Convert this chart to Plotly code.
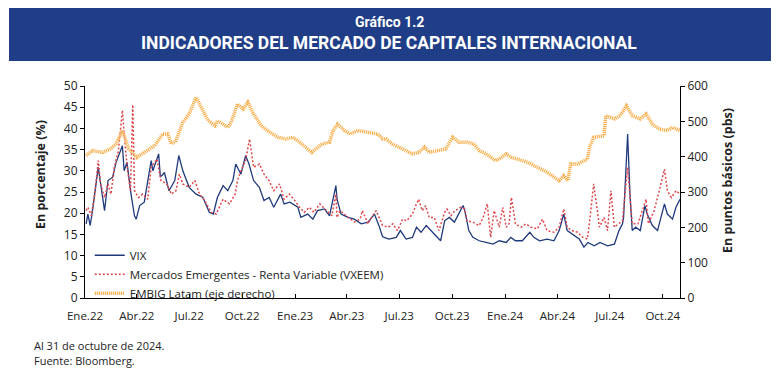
import plotly.graph_objects as go

# ---------------- data ----------------
quarter_ticks = ["2022-01-01", "2022-04-01", "2022-07-01", "2022-10-01", "2023-01-01", "2023-04-01",
                 "2023-07-01", "2023-10-01", "2024-01-01", "2024-04-01", "2024-07-01", "2024-10-01"]
quarter_labels = ["Ene.22", "Abr.22", "Jul.22", "Oct.22", "Ene.23", "Abr.23",
                  "Jul.23", "Oct.23", "Ene.24", "Abr.24", "Jul.24", "Oct.24"]

vix_dates = [
    "2022-01-03", "2022-01-06", "2022-01-10", "2022-01-14", "2022-01-24", "2022-01-27", "2022-02-01", "2022-02-04", "2022-02-10", "2022-02-18",
    "2022-02-24", "2022-03-07", "2022-03-10", "2022-03-15", "2022-03-22", "2022-03-28", "2022-03-31", "2022-04-06", "2022-04-14", "2022-04-26",
    "2022-04-29", "2022-05-09", "2022-05-12", "2022-05-19", "2022-05-27", "2022-06-06", "2022-06-13", "2022-06-20", "2022-07-01", "2022-07-13",
    "2022-07-25", "2022-08-05", "2022-08-12", "2022-08-19", "2022-08-29", "2022-09-06", "2022-09-15", "2022-09-20", "2022-09-29", "2022-10-07",
    "2022-10-13", "2022-10-21", "2022-10-31", "2022-11-08", "2022-11-17", "2022-11-25", "2022-12-07", "2022-12-13", "2022-12-23", "2023-01-06",
    "2023-01-11", "2023-01-23", "2023-02-01", "2023-02-09", "2023-02-21", "2023-03-02", "2023-03-13", "2023-03-15", "2023-03-22", "2023-04-03",
    "2023-04-14", "2023-04-26", "2023-05-08", "2023-05-19", "2023-05-27", "2023-06-02", "2023-06-05", "2023-06-13", "2023-06-26", "2023-07-03",
    "2023-07-13", "2023-07-24", "2023-07-31", "2023-08-08", "2023-08-17", "2023-08-25", "2023-09-01", "2023-09-11", "2023-09-18", "2023-09-26",
    "2023-10-05", "2023-10-20", "2023-10-23", "2023-10-30", "2023-11-06", "2023-11-17", "2023-11-29", "2023-12-11", "2023-12-22", "2024-01-03",
    "2024-01-11", "2024-01-19", "2024-01-31", "2024-02-08", "2024-02-13", "2024-02-20", "2024-03-01", "2024-03-14", "2024-03-26", "2024-04-04",
    "2024-04-12", "2024-04-18", "2024-04-26", "2024-05-09", "2024-05-17", "2024-05-24", "2024-06-04", "2024-06-14", "2024-06-27", "2024-07-09",
    "2024-07-17", "2024-07-23", "2024-07-25", "2024-08-01", "2024-08-05", "2024-08-09", "2024-08-15", "2024-08-23", "2024-08-31", "2024-09-04",
    "2024-09-13", "2024-09-22", "2024-10-04", "2024-10-09", "2024-10-18", "2024-10-24", "2024-10-31",
]
vix = [
    17.5, 19.8, 17.1, 20.6, 30.8, 27.7, 23.7, 20.6, 27.7, 28.5,
    32.0, 35.9, 30.0, 32.0, 24.5, 19.4, 18.6, 21.8, 22.6, 32.4,
    30.0, 34.0, 28.5, 29.6, 25.3, 27.7, 33.6, 30.0, 26.1, 24.5,
    23.7, 20.2, 19.8, 23.7, 26.5, 25.3, 27.7, 31.6, 29.2, 33.6,
    31.6, 27.7, 26.1, 23.0, 23.7, 21.4, 24.5, 22.2, 22.6, 21.4,
    19.0, 19.8, 18.6, 20.6, 21.0, 19.4, 26.5, 23.3, 19.8, 19.0,
    18.6, 17.5, 17.9, 19.8, 17.0, 14.5, 14.3, 13.9, 14.3, 15.9,
    13.9, 14.3, 16.7, 15.5, 17.1, 15.9, 15.1, 13.5, 18.2, 19.0,
    17.9, 21.8, 20.6, 15.9, 14.3, 13.5, 13.1, 12.7, 13.5, 13.1,
    14.3, 13.5, 13.5, 14.7, 15.5, 14.3, 13.5, 13.9, 13.5, 15.9,
    19.8, 15.9, 15.1, 13.9, 12.0, 13.1, 12.3, 13.1, 12.3, 12.7,
    15.9, 17.5, 19.0, 38.7, 24.5, 15.9, 16.7, 15.9, 21.8, 19.8,
    17.1, 15.9, 22.2, 19.8, 18.6, 21.4, 23.3,
]

vxeem_dates = [
    "2022-01-03", "2022-01-06", "2022-01-12", "2022-01-18", "2022-01-24", "2022-01-28", "2022-02-04", "2022-02-10", "2022-02-15", "2022-02-21",
    "2022-02-28", "2022-03-07", "2022-03-10", "2022-03-16", "2022-03-21", "2022-03-25", "2022-03-28", "2022-04-04", "2022-04-11", "2022-04-20",
    "2022-04-26", "2022-05-06", "2022-05-13", "2022-05-23", "2022-05-31", "2022-06-08", "2022-06-14", "2022-06-20", "2022-07-01", "2022-07-11",
    "2022-07-19", "2022-07-28", "2022-08-08", "2022-08-17", "2022-08-29", "2022-09-09", "2022-09-19", "2022-09-23", "2022-09-29", "2022-10-07",
    "2022-10-14", "2022-10-21", "2022-10-31", "2022-11-08", "2022-11-17", "2022-11-25", "2022-12-05", "2022-12-13", "2022-12-22", "2022-12-30",
    "2023-01-09", "2023-01-17", "2023-01-26", "2023-02-03", "2023-02-13", "2023-02-24", "2023-03-06", "2023-03-13", "2023-03-15", "2023-03-20",
    "2023-03-28", "2023-04-05", "2023-04-14", "2023-04-24", "2023-04-28", "2023-05-08", "2023-05-12", "2023-05-22", "2023-05-29", "2023-06-02",
    "2023-06-12", "2023-06-20", "2023-06-28", "2023-07-07", "2023-07-14", "2023-07-24", "2023-07-31", "2023-08-04", "2023-08-10", "2023-08-16",
    "2023-08-22", "2023-08-31", "2023-09-08", "2023-09-18", "2023-09-22", "2023-09-29", "2023-10-06", "2023-10-16", "2023-10-23", "2023-10-27",
    "2023-11-06", "2023-11-17", "2023-11-24", "2023-12-01", "2023-12-07", "2023-12-13", "2023-12-22", "2023-12-28", "2024-01-03", "2024-01-08",
    "2024-01-12", "2024-01-19", "2024-01-29", "2024-02-06", "2024-02-15", "2024-02-26", "2024-03-06", "2024-03-14", "2024-03-26", "2024-04-04",
    "2024-04-12", "2024-04-18", "2024-04-26", "2024-05-06", "2024-05-15", "2024-05-23", "2024-05-27", "2024-06-03", "2024-06-07", "2024-06-13",
    "2024-06-21", "2024-06-27", "2024-07-03", "2024-07-09", "2024-07-16", "2024-07-23", "2024-08-01", "2024-08-05", "2024-08-09", "2024-08-19",
    "2024-08-26", "2024-09-02", "2024-09-06", "2024-09-16", "2024-09-25", "2024-10-04", "2024-10-09", "2024-10-16", "2024-10-24", "2024-10-31",
]
vxeem = [
    20.6, 21.4, 19.4, 24.5, 32.4, 26.9, 23.7, 26.9, 24.5, 30.8,
    34.7, 44.3, 38.7, 30.0, 25.3, 45.6, 25.3, 23.7, 24.5, 23.3,
    30.8, 32.8, 27.7, 26.9, 24.5, 25.3, 29.2, 26.9, 26.1, 27.7,
    24.5, 23.0, 20.2, 19.8, 23.3, 22.2, 24.5, 27.7, 30.0, 32.4,
    37.5, 30.8, 31.6, 29.2, 27.7, 25.3, 26.9, 23.3, 24.5, 23.3,
    21.4, 20.2, 21.4, 20.2, 22.2, 20.6, 19.4, 24.5, 19.0, 20.6,
    19.8, 19.0, 17.9, 18.6, 20.6, 17.5, 18.6, 20.6, 18.3, 17.1,
    16.7, 17.5, 15.9, 18.6, 18.2, 19.8, 22.2, 23.3, 20.6, 21.8,
    19.0, 19.0, 15.9, 20.2, 21.0, 19.4, 20.6, 21.4, 21.0, 18.2,
    17.9, 17.1, 19.0, 22.2, 14.3, 20.6, 16.7, 21.4, 16.7, 17.5,
    23.7, 17.5, 16.7, 17.5, 16.7, 16.3, 18.6, 15.9, 15.5, 16.7,
    21.0, 16.7, 15.9, 15.5, 14.3, 13.9, 18.2, 26.9, 23.0, 16.7,
    19.0, 15.9, 25.3, 16.7, 17.5, 18.2, 30.8, 24.5, 17.5, 17.5,
    20.6, 23.3, 17.5, 20.6, 25.3, 30.4, 25.3, 23.7, 25.3, 24.5,
]

embig_dates = [
    "2022-01-03", "2022-01-14", "2022-02-01", "2022-02-14", "2022-02-24", "2022-03-07", "2022-03-11", "2022-03-18", "2022-04-01", "2022-04-14",
    "2022-05-02", "2022-05-16", "2022-05-25", "2022-05-31", "2022-06-08", "2022-06-20", "2022-07-01", "2022-07-13", "2022-07-22", "2022-08-03",
    "2022-08-15", "2022-08-19", "2022-08-29", "2022-09-06", "2022-09-12", "2022-09-23", "2022-10-03", "2022-10-11", "2022-10-21", "2022-11-03",
    "2022-11-14", "2022-12-02", "2022-12-16", "2022-12-28", "2023-01-06", "2023-01-17", "2023-01-30", "2023-02-06", "2023-02-17", "2023-03-02",
    "2023-03-08", "2023-03-16", "2023-03-28", "2023-04-07", "2023-04-20", "2023-05-08", "2023-05-25", "2023-06-02", "2023-06-08", "2023-06-19",
    "2023-07-07", "2023-07-24", "2023-08-04", "2023-08-14", "2023-08-22", "2023-09-08", "2023-09-20", "2023-10-02", "2023-10-13", "2023-10-27",
    "2023-11-08", "2023-11-17", "2023-11-29", "2023-12-15", "2023-12-22", "2024-01-03", "2024-01-12", "2024-01-31", "2024-02-09", "2024-02-26",
    "2024-03-14", "2024-04-04", "2024-04-12", "2024-04-19", "2024-04-24", "2024-05-06", "2024-05-23", "2024-05-27", "2024-06-03", "2024-06-21",
    "2024-06-24", "2024-07-09", "2024-07-19", "2024-07-30", "2024-08-09", "2024-08-23", "2024-09-02", "2024-09-13", "2024-09-25", "2024-10-09",
    "2024-10-18", "2024-10-31",
]
embig = [
    403, 417, 412, 422, 436, 474, 455, 422, 398, 412,
    431, 464, 464, 436, 445, 497, 521, 568, 540, 502,
    488, 502, 492, 483, 497, 549, 535, 554, 521, 488,
    474, 455, 450, 455, 445, 431, 412, 422, 436, 441,
    474, 492, 474, 464, 474, 469, 464, 450, 450, 436,
    422, 408, 412, 427, 412, 417, 422, 455, 441, 441,
    436, 417, 408, 389, 393, 408, 398, 389, 384, 370,
    356, 332, 346, 332, 379, 379, 393, 427, 455, 459,
    516, 507, 516, 544, 516, 507, 521, 492, 478, 474,
    483, 474,
]

# ---------------- figure ----------------
TICK_FONT = dict(family="Open Sans", size=12, color="#222222")

fig = go.Figure()
fig.add_trace(go.Scatter(x=vix_dates, y=vix, name="VIX", mode="lines",
                         line=dict(color="#1F3A7D", width=1.3)))
fig.add_trace(go.Scatter(x=vxeem_dates, y=vxeem, name="Mercados Emergentes - Renta Variable (VXEEM)",
                         mode="lines", line=dict(color="#E0474C", width=1.5, dash="2px,2px")))
fig.add_trace(go.Scatter(x=embig_dates, y=embig, name="EMBIG Latam (eje derecho)", yaxis="y2",
                         mode="lines", line=dict(color="#F6B050", width=3.5, dash="1.2px,0.8px")))

fig.update_layout(
    width=771, height=373, autosize=False,
    margin=dict(l=77, r=99, t=78, b=83),
    paper_bgcolor="white", plot_bgcolor="white",
    font=dict(family="Open Sans", size=12, color="#222222"),
    showlegend=True,
    legend=dict(x=0.008, y=0.27, xanchor="left", yanchor="top", bgcolor="rgba(0,0,0,0)",
                font=dict(family="Open Sans", size=11.5, color="#222222"), tracegroupgap=0,
                itemwidth=30),
    xaxis=dict(type="date", range=["2022-01-01", "2024-10-31"], tickvals=quarter_ticks,
               ticktext=quarter_labels, ticks="inside", ticklen=4, tickcolor="#000",
               showline=True, linecolor="#000", linewidth=1, showgrid=False, zeroline=False,
               ticklabelstandoff=7,
               tickfont=dict(family="Open Sans", size=11.5, color="#222222")),
    yaxis=dict(range=[0, 50], dtick=5, ticks="outside", ticklen=4, tickcolor="#000",
               showline=True, linecolor="#000", linewidth=1, showgrid=False, zeroline=False,
               tickfont=TICK_FONT),
    yaxis2=dict(range=[0, 600], dtick=100, overlaying="y", side="right", ticks="outside",
                ticklen=4, tickcolor="#000", showline=True, linecolor="#000", linewidth=1,
                showgrid=False, zeroline=False, tickfont=TICK_FONT),
)

# header banner
fig.add_shape(type="rect", xref="paper", yref="paper", x0=-0.1277, x1=1.1529, y0=1.118, y1=1.42,
              fillcolor="#1F3E87", line=dict(width=0), layer="above")
fig.add_annotation(text="<b>Gráfico 1.2</b>", xref="paper", yref="paper", x=0.511, y=1.302,
                   xanchor="center", yanchor="middle", showarrow=False,
                   font=dict(family="Roboto", size=14, color="white"))
fig.add_annotation(text="<b>INDICADORES DEL MERCADO DE CAPITALES INTERNACIONAL</b>", xref="paper",
                   yref="paper", x=0.511, y=1.203, xanchor="center", yanchor="middle", showarrow=False,
                   font=dict(family="Roboto", size=17.5, color="white"))

# axis titles
fig.add_annotation(text="<b>En porcentaje (%)</b>", xref="paper", yref="paper", x=-0.0756, y=0.58,
                   xanchor="center", yanchor="middle", textangle=-90, showarrow=False,
                   font=dict(family="Open Sans", size=12.5, color="#222"))
fig.add_annotation(text="<b>En puntos básicos (pbs)</b>", xref="paper", yref="paper", x=1.0807, y=0.552,
                   xanchor="center", yanchor="middle", textangle=-90, showarrow=False,
                   font=dict(family="Open Sans", size=12.5, color="#222"))

# footnotes
fig.add_annotation(text="Al 31 de octubre de 2024.", xref="paper", yref="paper", x=-0.089, y=-0.2217,
                   xanchor="left", yanchor="middle", showarrow=False,
                   font=dict(family="Open Sans", size=11, color="#222"))
fig.add_annotation(text="Fuente: Bloomberg.", xref="paper", yref="paper", x=-0.089, y=-0.297,
                   xanchor="left", yanchor="middle", showarrow=False,
                   font=dict(family="Open Sans", size=11, color="#222"))

fig.write_html("out.html")
